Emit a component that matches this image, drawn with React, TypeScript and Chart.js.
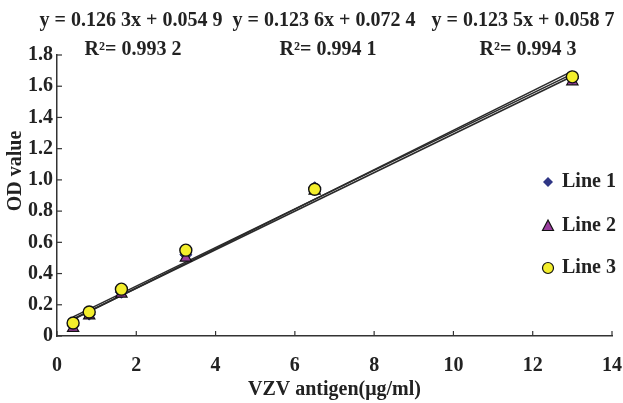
import React, { useEffect, useRef } from "react";
import { Chart, registerables } from "chart.js";

Chart.register(...registerables);

const concentrations = [0.40625, 0.8125, 1.625, 3.25, 6.5, 13];
const line1Values = [0.07, 0.14, 0.28, 0.52, 0.95, 1.65];
const line2Values = [0.05, 0.13, 0.27, 0.5, 0.93, 1.63];
const line3Values = [0.083, 0.154, 0.3, 0.55, 0.94, 1.66];
const seriesNames = ["Line 1", "Line 2", "Line 3"];
const slopes = [0.1263, 0.1236, 0.1235];
const intercepts = [0.0549, 0.0724, 0.0587];
const equationLabels = [
  "y = 0.126 3x + 0.054 9",
  "y = 0.123 6x + 0.072 4",
  "y = 0.123 5x + 0.058 7",
];
const r2Labels = ["R\u00B2= 0.993 2", "R\u00B2= 0.994 1", "R\u00B2= 0.994 3"];
const xTitle = "VZV antigen(\u03BCg/ml)";
const yTitle = "OD value";

const FONT = "'Liberation Serif', 'Times New Roman', serif";
const diamondColor = "#2f3685";
const triangleColor = "#9a3d9e";
const circleColor = "#f3ee2c";

const overlayPlugin = {
  id: "overlay",
  afterDraw(chart: any) {
    const ctx = chart.ctx;
    const xs = chart.scales.x;
    const ys = chart.scales.y;
    const area = chart.chartArea;
    ctx.save();
    // inward ticks
    ctx.strokeStyle = "#333";
    ctx.lineWidth = 1.2;
    xs.ticks.forEach((t: any) => {
      const px = xs.getPixelForValue(t.value);
      ctx.beginPath();
      ctx.moveTo(px, area.bottom);
      ctx.lineTo(px, area.bottom - 5);
      ctx.stroke();
    });
    ys.ticks.forEach((t: any) => {
      const py = ys.getPixelForValue(t.value);
      ctx.beginPath();
      ctx.moveTo(area.left, py);
      ctx.lineTo(area.left + 5, py);
      ctx.stroke();
    });
    // equations
    ctx.fillStyle = "#222";
    ctx.font = `bold 20px ${FONT}`;
    ctx.textAlign = "center";
    ctx.textBaseline = "middle";
    const eqX = [131, 324, 523];
    const r2X = [133, 328, 528];
    equationLabels.forEach((s, i) => ctx.fillText(s, eqX[i], 21));
    r2Labels.forEach((s, i) => ctx.fillText(s, r2X[i], 50));
    // y title
    ctx.save();
    ctx.translate(16, 171);
    ctx.rotate(-Math.PI / 2);
    ctx.fillText(yTitle, 0, 0);
    ctx.restore();
    // legend
    const ly = [182, 226, 268];
    const mx = 548;
    ctx.fillStyle = diamondColor;
    ctx.beginPath();
    ctx.moveTo(mx, ly[0] - 5);
    ctx.lineTo(mx + 5, ly[0]);
    ctx.lineTo(mx, ly[0] + 5);
    ctx.lineTo(mx - 5, ly[0]);
    ctx.closePath();
    ctx.fill();
    ctx.fillStyle = triangleColor;
    ctx.strokeStyle = "#111";
    ctx.lineWidth = 1.2;
    ctx.beginPath();
    ctx.moveTo(mx, ly[1] - 6);
    ctx.lineTo(mx + 5.5, ly[1] + 4.5);
    ctx.lineTo(mx - 5.5, ly[1] + 4.5);
    ctx.closePath();
    ctx.fill();
    ctx.stroke();
    ctx.fillStyle = circleColor;
    ctx.beginPath();
    ctx.arc(mx, ly[2], 5.5, 0, Math.PI * 2);
    ctx.fill();
    ctx.stroke();
    ctx.fillStyle = "#222";
    ctx.textAlign = "left";
    ctx.font = `bold 20px ${FONT}`;
    seriesNames.forEach((s, i) => ctx.fillText(s, 562, ly[i]));
    ctx.restore();
  },
};

export default function App() {
  const ref = useRef<HTMLCanvasElement | null>(null);
  useEffect(() => {
    document.body.style.margin = "0";
    const canvas = ref.current;
    if (!canvas) return;
    const xMin = concentrations[0];
    const xMax = concentrations[concentrations.length - 1];
    const trend = slopes.map((m, i) => ({
      type: "line" as const,
      label: "trend" + (i + 1),
      data: [
        { x: xMin, y: m * xMin + intercepts[i] },
        { x: xMax, y: m * xMax + intercepts[i] },
      ],
      borderColor: "#2a2a2a",
      borderWidth: 1.6,
      pointRadius: 0,
      showLine: true,
      order: 10,
    }));
    const pts = (vals: number[]) => concentrations.map((x, i) => ({ x, y: vals[i] }));
    const chart = new Chart(canvas, {
      type: "scatter",
      data: {
        datasets: [
          ...trend,
          {
            label: seriesNames[0],
            data: pts(line1Values),
            pointStyle: "rectRot",
            pointRadius: 6,
            backgroundColor: diamondColor,
            borderColor: diamondColor,
            borderWidth: 1,
            order: 3,
          },
          {
            label: seriesNames[1],
            data: pts(line2Values),
            pointStyle: "triangle",
            pointRadius: 6.5,
            backgroundColor: triangleColor,
            borderColor: "#111",
            borderWidth: 1.2,
            order: 2,
          },
          {
            label: seriesNames[2],
            data: pts(line3Values),
            pointStyle: "circle",
            pointRadius: 6,
            backgroundColor: circleColor,
            borderColor: "#111",
            borderWidth: 1.4,
            order: 1,
          },
        ] as any,
      },
      options: {
        animation: false,
        responsive: false,
        layout: { padding: { top: 55, right: 11, left: 0, bottom: 0 } },
        plugins: { legend: { display: false }, tooltip: { enabled: false } },
        scales: {
          x: {
            type: "linear",
            min: 0,
            max: 14,
            afterFit: (s: any) => {
              s.height = 67;
              s.paddingLeft = 0;
              s.paddingRight = 0;
            },
            grid: { display: false, drawTicks: false },
            border: { display: true, color: "#333", width: 1.5 },
            ticks: {
              stepSize: 2,
              padding: 18,
              color: "#222",
              font: { family: FONT, size: 20, weight: "bold" },
            },
            title: {
              display: true,
              text: xTitle,
              color: "#222",
              padding: { top: 0, bottom: 1 },
              font: { family: FONT, size: 20, weight: "bold" },
            },
          },
          y: {
            type: "linear",
            min: 0,
            max: 1.8,
            afterFit: (s: any) => {
              s.width = 57;
              s.paddingTop = 0;
              s.paddingBottom = 0;
            },
            grid: { display: false, drawTicks: false },
            border: { display: true, color: "#333", width: 1.5 },
            ticks: {
              stepSize: 0.2,
              padding: 4,
              color: "#222",
              font: { family: FONT, size: 20, weight: "bold" },
              callback: (v: any) => (Number(v) === 0 ? "0" : Number(v).toFixed(1)),
            },
          },
        },
      },
      plugins: [overlayPlugin],
    });
    return () => chart.destroy();
  }, []);
  return (
    <div style={{ width: 623, height: 403 }}>
      <canvas ref={ref} width={623} height={403} style={{ width: 623, height: 403 }} />
    </div>
  );
}
